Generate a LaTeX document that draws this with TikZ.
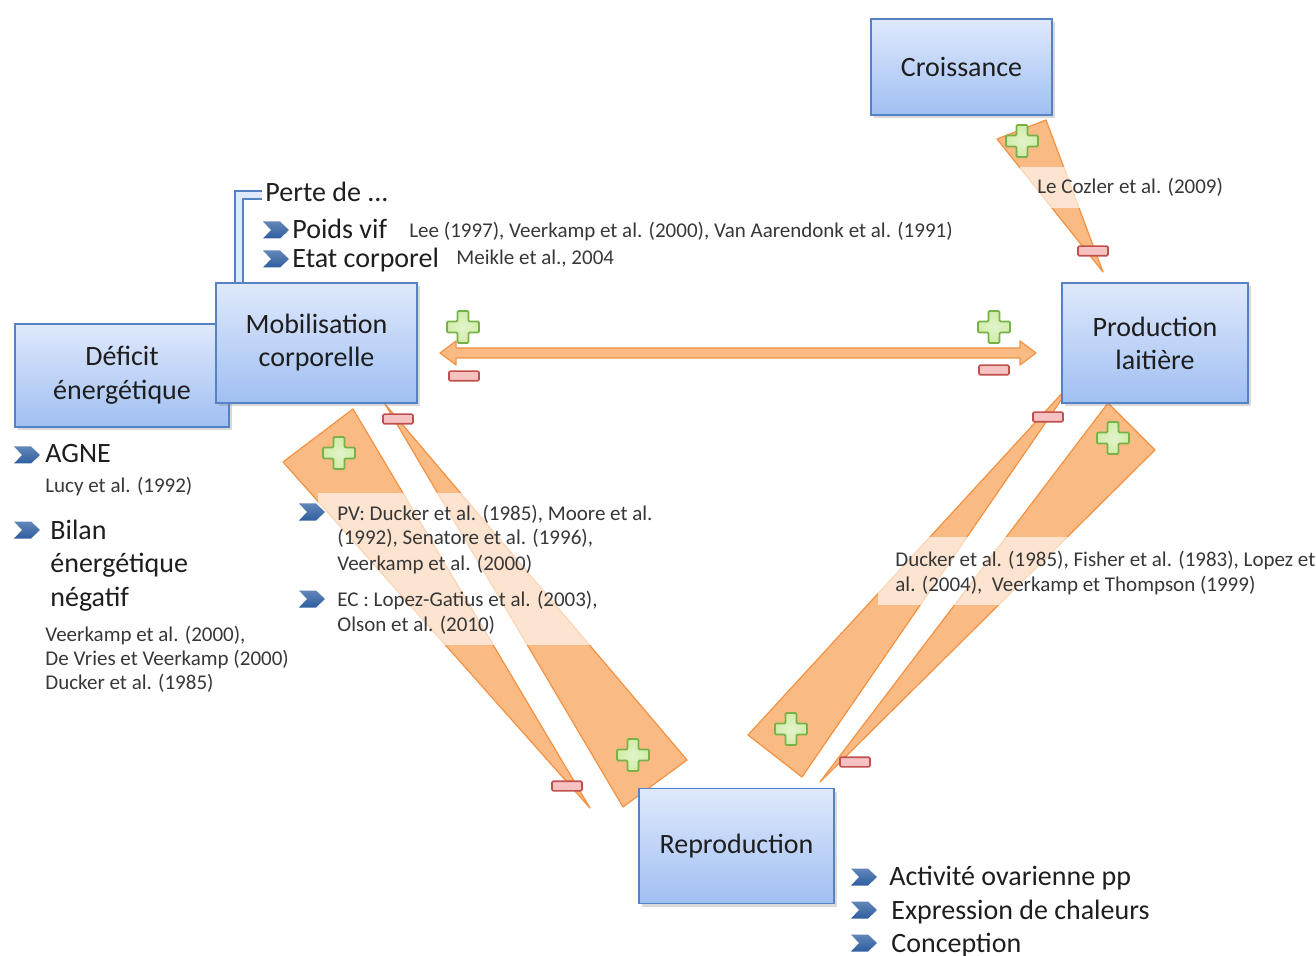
\documentclass[tikz,border=0pt]{standalone}
\usepackage{fontspec}
\setmainfont{Carlito}
\usetikzlibrary{shadows,calc}
\definecolor{boxTop}{RGB}{223,233,252}
\definecolor{boxBot}{RGB}{160,191,242}
\definecolor{boxBorder}{RGB}{84,130,196}
\definecolor{orFill}{RGB}{250,186,132}
\definecolor{orLine}{RGB}{242,146,66}
\definecolor{plusFill}{RGB}{208,236,168}
\definecolor{plusLine}{RGB}{118,178,70}
\definecolor{minFill}{RGB}{246,194,194}
\definecolor{minLine}{RGB}{192,80,77}
\definecolor{chev}{RGB}{46,94,160}
\definecolor{txt}{RGB}{30,30,30}
\definecolor{citc}{RGB}{55,55,55}
\tikzset{
 box/.style={draw=boxBorder, line width=0.7pt, top color=boxTop, bottom color=boxBot,
   align=center, font=\fontsize{14}{16.5}\selectfont, text=txt, inner sep=0pt,
   drop shadow={shadow xshift=1.5pt, shadow yshift=-1.5pt, opacity=0.3}},
 wedge/.style={fill=orFill, draw=orLine, line width=0.6pt, line join=round},
 big/.style={font=\fontsize{14}{17}\selectfont, text=txt, inner sep=0pt, anchor=base west},
 cite/.style={font=\fontsize{10.5}{12.5}\selectfont, text=citc, inner sep=0pt, anchor=base west},
 veil/.style={fill=white, fill opacity=0.62, draw=none},
 bracket/.style={draw=boxBorder, line width=0.7pt, double=boxTop, double distance=3.4pt},
 plussign/.pic={\path[inner color=white!40!plusFill, outer color=plusFill, draw=plusLine, line width=0.9pt, rounded corners=0.6pt]
   (-5.5,-16) -- (5.5,-16) -- (5.5,-5.5) -- (16,-5.5) -- (16,5.5) -- (5.5,5.5) -- (5.5,16)
   -- (-5.5,16) -- (-5.5,5.5) -- (-16,5.5) -- (-16,-5.5) -- (-5.5,-5.5) -- cycle;},
 minussign/.pic={\path[fill=minFill, draw=minLine, line width=0.8pt, rounded corners=0.6pt]
   (-15,-4.8) rectangle (15,4.8);},
 chevron/.pic={\path[top color=chev!75!white, bottom color=chev] (-13,-8.5) -- (4,-8.5) -- (13,0) -- (4,8.5) -- (-13,8.5) -- (-5,0) -- cycle;}
}
\begin{document}
\begin{tikzpicture}[x=0.5pt,y=-0.5pt]
\useasboundingbox (0,0) rectangle (1316,956);

% ---------- wedges ----------
\path[wedge] (997,139) -- (1046,120) -- (1103,272) -- cycle;           % Croissance -> Production
\path[wedge] (283,462) -- (353,409) -- (590,808) -- cycle;             % A
\path[wedge] (385,404) -- (687,760) -- (623,807) -- cycle;             % B
\path[wedge] (1108,403) -- (1155,450) -- (820,782) -- cycle;           % C
\path[wedge] (1077,377) -- (802,777) -- (748,735) -- cycle;            % D
% double arrow
\path[wedge] (440,353) -- (456,341) -- (456,348) -- (1020,348) -- (1020,341) -- (1036,353)
  -- (1020,365) -- (1020,358) -- (456,358) -- (456,365) -- cycle;

% ---------- veils behind citations ----------
\path[veil] (318,493) rectangle (655,645);
\path[veil] (878,537) rectangle (1316,605);
\path[veil] (1020,167) rectangle (1232,208);

% ---------- bracket ----------
\coordinate (brk) at (239,195);

% ---------- boxes ----------
\node[box, minimum width=107pt, minimum height=51.5pt, font=\fontsize{14}{17}\selectfont] (def) at (122,375.5) {Déficit\\énergétique};
\draw[bracket] (brk |- 0,283) -- (brk) -- ++(23,0);
\node[box, minimum width=100.5pt, minimum height=60pt] (mob) at (316.5,343) {Mobilisation\\corporelle};
\node[box, minimum width=90.5pt, minimum height=48pt] (cro) at (961.5,67) {Croissance};
\node[box, minimum width=93pt, minimum height=60pt] (prod) at (1155,343) {Production\\laitière};
\node[box, minimum width=97.5pt, minimum height=57.5pt] (rep) at (736.5,846) {Reproduction};

% ---------- plus / minus ----------
\pic at (1022,141) {plussign};
\pic at (1093,251) {minussign};
\pic at (463,327) {plussign};
\pic at (994,327) {plussign};
\pic at (464,376) {minussign};
\pic at (994,370) {minussign};
\pic at (339,453) {plussign};
\pic at (567,786) {minussign};
\pic at (398,419) {minussign};
\pic at (633,755) {plussign};
\pic at (1113,438) {plussign};
\pic at (855,762) {minussign};
\pic at (791,729) {plussign};
\pic at (1048,417) {minussign};

% ---------- Perte de ----------
\node[big] (perte) at (265,202) {Perte de ...};
\pic at (276,230) {chevron};
\node[big] (poids) at (292,239) {Poids vif};
\pic at (276,259) {chevron};
\node[big] (etat) at (292,268) {Etat corporel};
\node[cite] (lee) at (409,238) {Lee (1997), Veerkamp et al. (2000), Van Aarendonk et al. (1991)};
\node[cite] (meikle) at (456,265) {Meikle et al., 2004};
\node[cite] (cozler) at (1037,194) {Le Cozler et al. (2009)};

% ---------- left column ----------
\pic at (27,455) {chevron};
\node[big] (agne) at (45,463) {AGNE};
\node[cite] (lucy) at (45,493) {Lucy et al. (1992)};
\pic at (27,530) {chevron};
\node[big] (bil1) at (50,539) {Bilan};
\node[big] (bil2) at (50,572) {énergétique};
\node[big] (bil3) at (50,606) {négatif};
\node[cite] (vk1) at (45,641) {Veerkamp et al. (2000),};
\node[cite] (vk2) at (45,665) {De Vries et Veerkamp (2000)};
\node[cite] (vk3) at (45,689) {Ducker et al. (1985)};

% ---------- middle citations ----------
\pic at (312,512) {chevron};
\node[cite] (pv1) at (337,520) {PV: Ducker et al. (1985), Moore et al.};
\node[cite] (pv2) at (337,545) {(1992), Senatore et al. (1996),};
\node[cite] (pv3) at (337,570) {Veerkamp et al. (2000)};
\pic at (312,599) {chevron};
\node[cite] (ec1) at (337,606) {EC : Lopez-Gatius et al. (2003),};
\node[cite] (ec2) at (337,631) {Olson et al. (2010)};

% ---------- right citations ----------
\node[cite] (du1) at (895,566) {Ducker et al. (1985), Fisher et al. (1983), Lopez et};
\node[cite] (du2) at (895,591) {al. (2004),\ \ Veerkamp et Thompson (1999)};

% ---------- reproduction bullets ----------
\pic at (864,877) {chevron};
\node[big] (ova) at (889,885) {Activité ovarienne pp};
\pic at (864,910) {chevron};
\node[big] (chal) at (891,919) {Expression de chaleurs};
\pic at (864,943) {chevron};
\node[big] (conc) at (891,952) {Conception};
\end{tikzpicture}
\end{document}
